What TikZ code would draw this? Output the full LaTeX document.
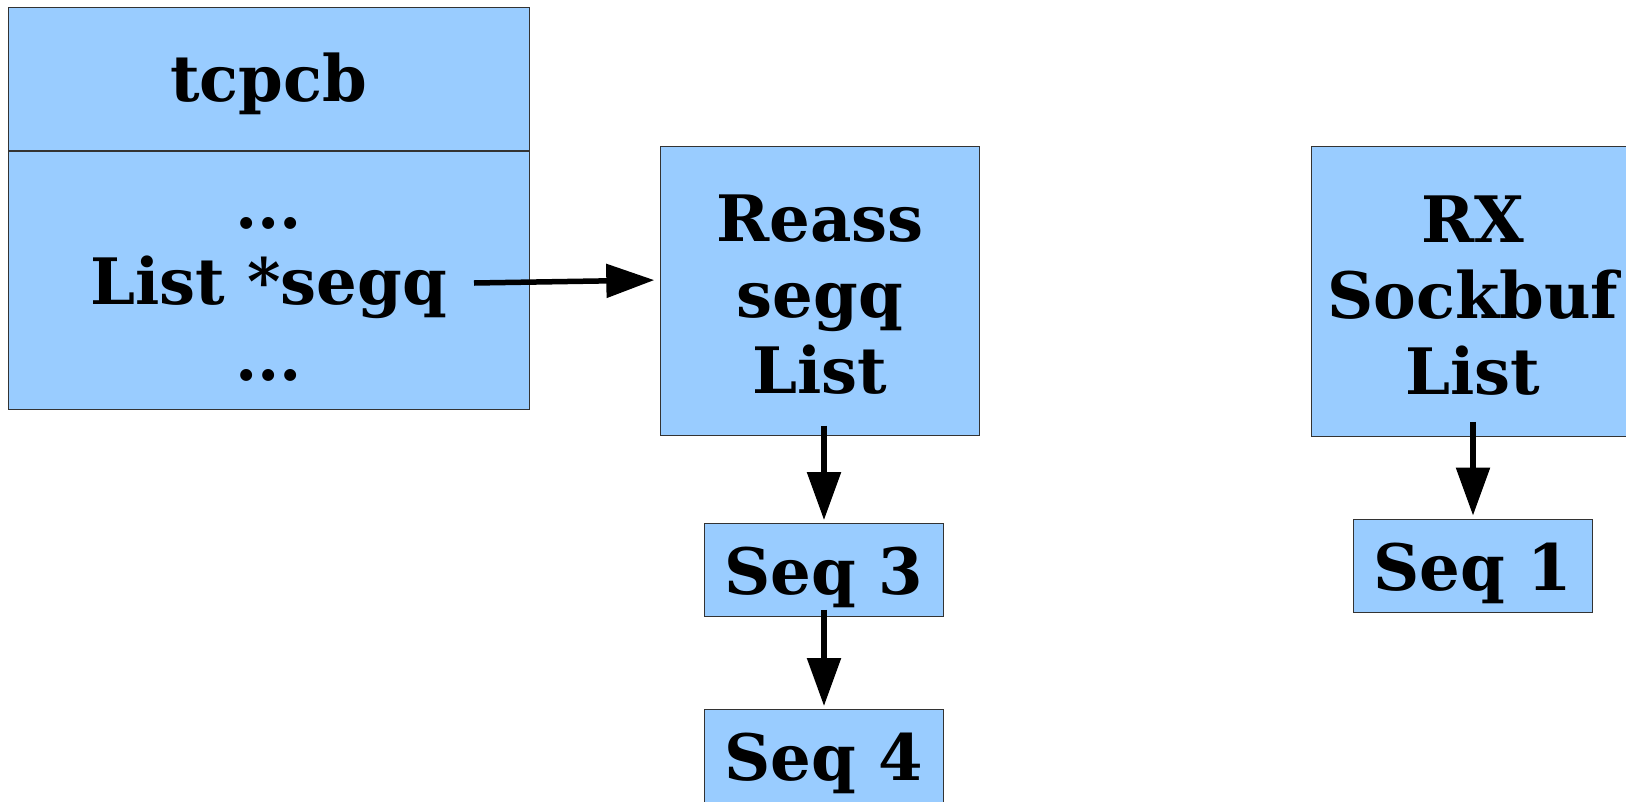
\documentclass[tikz,border=0pt]{standalone}
\usepackage{fontspec}
\setmainfont{DejaVu Serif}
\usetikzlibrary{arrows.meta,calc}
\definecolor{boxblue}{HTML}{99CCFF}
\definecolor{boxline}{HTML}{333333}
\tikzset{
  x=1pt, y=-1pt,
  cell/.style={draw=boxline, line width=0.9pt, fill=boxblue, inner sep=0pt},
  lbl/.style={inner sep=0pt, align=center, font=\fontsize{64}{76}\selectfont\bfseries},
  arr/.style={line width=5.5pt, -{Triangle[length=48pt,width=33pt]}}
}
\begin{document}
\begin{tikzpicture}
\useasboundingbox (0,0) rectangle (1626,801);
% tcpcb structure: header and field area
\node[cell, minimum width=521pt, minimum height=143pt] (tcpcb) at (268.5,79) {};
\node[cell, minimum width=521pt, minimum height=258pt, anchor=north] (fields) at (tcpcb.south) {};
\node[lbl, yshift=-5pt] (tcpcbname) at (tcpcb) {tcpcb};
\node[lbl, yshift=-19pt] (fieldlist) at (fields) {...\\List *segq\\...};
% reassembly queue
\node[cell, minimum width=318.5pt, minimum height=289.5pt] (reass) at (820,291) {};
\node[cell, minimum width=239.5pt, minimum height=93pt] (seq3) at (824,570) {};
\node[cell, minimum width=239.5pt, minimum height=93pt, anchor=north] (seq4) at (824,709) {};
\node[lbl, yshift=-4pt] (reassname) at (reass) {Reass\\segq\\List};
\node[lbl, yshift=-7pt] (seq3name) at (seq3) {Seq 3};
\node[lbl, yshift=-7pt] (seq4name) at (seq4) {Seq 4};
% receive socket buffer
\node[cell, minimum width=320pt, minimum height=289.5pt, anchor=north west] (rx) at (1311,146) {};
\node[cell, minimum width=239.5pt, minimum height=93pt] (seq1) at (1473,566) {};
\node[lbl, yshift=-4pt] (rxname) at (rx.center -| 1473,0) {RX\\Sockbuf\\List};
\node[lbl, yshift=-7pt] (seq1name) at (seq1) {Seq 1};
% pointers
\coordinate (segqptr) at (474,283);
\draw[arr, shorten >=6pt] (segqptr) -- (reass.west |- 0,280);
\draw[arr, shorten >=3pt] ([yshift=10.5pt]reass.south -| seq3.north) -- (seq3.north);
\draw[arr, shorten >=3pt] ([yshift=7pt]seq3.south) -- (seq4.north);
\draw[arr, shorten >=3.5pt] ([yshift=14.5pt]rx.south -| seq1.north) -- (seq1.north);
\end{tikzpicture}
\end{document}
